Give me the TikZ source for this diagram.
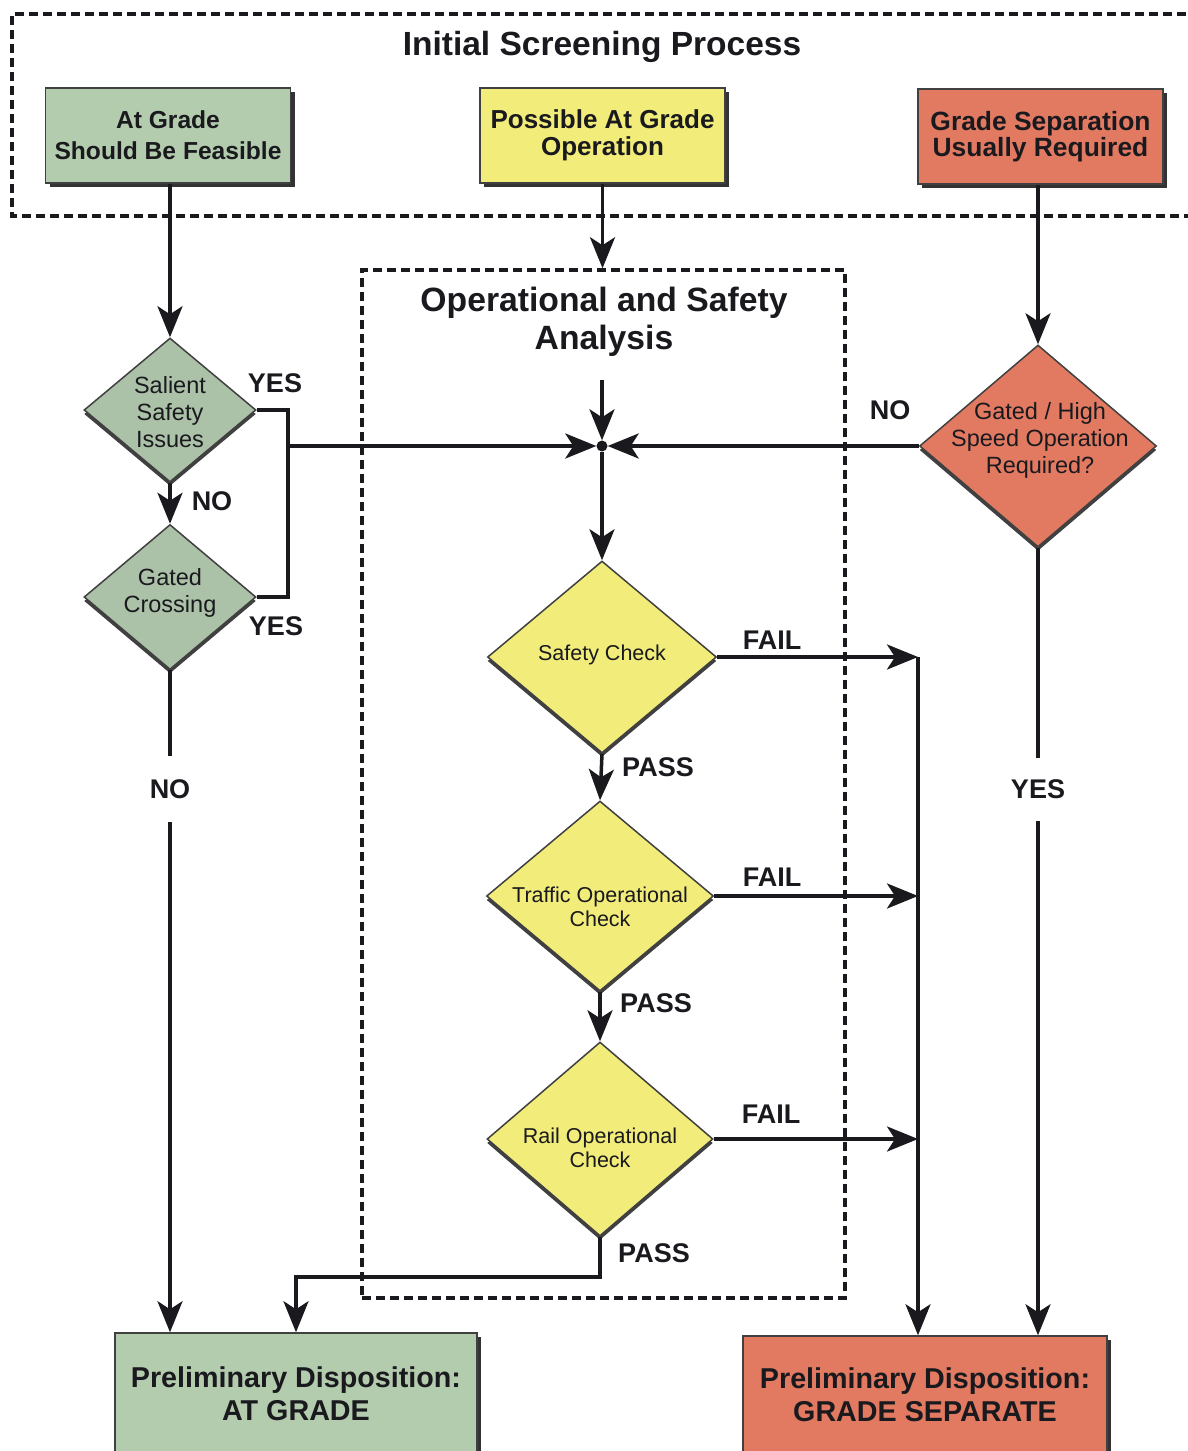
\documentclass[tikz,border=0pt]{standalone}
\usepackage{fontspec}
\setmainfont{Liberation Sans}
\usetikzlibrary{shapes.geometric,arrows.meta,shadows}
\definecolor{boxgreen}{RGB}{180,204,174}
\definecolor{diagreen}{RGB}{172,194,168}
\definecolor{boxyellow}{RGB}{242,236,122}
\definecolor{boxred}{RGB}{226,122,98}
\definecolor{ink}{RGB}{25,25,30}
\begin{document}
\begin{tikzpicture}[x=1pt,y=-1pt,
  box/.style={draw=gray!50!black, line width=1.5pt, rectangle, inner sep=0pt, align=center, text=ink,
    drop shadow={shadow xshift=4pt, shadow yshift=-4pt, fill=black!80, opacity=1}},
  dia/.style={diamond, draw=gray!50!black, line width=1.5pt, inner sep=0pt,
    drop shadow={shadow xshift=0pt, shadow yshift=-4pt, fill=black!75, opacity=1}},
  dtext/.style={align=center, text=ink, inner sep=0pt, font=\fontsize{23.5}{27}\selectfont},
  ytext/.style={align=center, text=ink, inner sep=0pt, font=\fontsize{21.5}{24}\selectfont},
  lab/.style={font=\fontsize{27}{30}\selectfont\bfseries, text=ink, inner sep=0pt},
  dbox/.style={draw=ink, line width=3.5pt, dash pattern=on 9pt off 5pt},
  line/.style={draw=ink, line width=3.5pt},
  arr/.style={draw=ink, line width=3.5pt, -{Stealth[length=31pt,width=25pt,inset=8pt]}}
]
\clip (0,0) rectangle (1188,1451);
\fill[white] (0,0) rectangle (1188,1451);

% Initial screening frame
\draw[dbox] (1200,14) -- (12,14) -- (12,216) -- (1200,216);
\node[font=\fontsize{33.5}{40}\selectfont\bfseries, text=ink] (t1) at (602,47) {Initial Screening Process};

\node[box, fill=boxgreen, minimum width=245pt, minimum height=95pt, font=\fontsize{24.6}{31}\selectfont\bfseries] (b1) at (168,135.5) {At Grade\\Should Be Feasible};
\node[box, fill=boxyellow, minimum width=245pt, minimum height=95pt, font=\fontsize{26}{27}\selectfont\bfseries] (b2) at (602.5,135.5) {Possible At Grade\\Operation};
\node[box, fill=boxred, minimum width=245pt, minimum height=95pt, font=\fontsize{26.4}{26}\selectfont\bfseries] (b3) at (1040.5,136.5) {Grade Separation\\Usually Required};

% Operational and safety frame
\node[dbox, rectangle, minimum width=483pt, minimum height=1028pt, inner sep=0pt] (osa) at (603.5,784) {};
\node[font=\fontsize{33.7}{38}\selectfont\bfseries, align=center, text=ink] (t2) at (604,322) {Operational and Safety\\Analysis};

% junction
\node[circle, fill=ink, inner sep=0pt, minimum size=11pt] (j) at (602,446) {};
\coordinate (jin) at (602,380);

% diamonds
\node[dia, fill=diagreen, minimum width=172pt, minimum height=144pt] (sal) at (170,410) {};
\node[dtext] at (170,412) {Salient\\Safety\\Issues};
\node[dia, fill=diagreen, minimum width=172pt, minimum height=145pt] (gat) at (170,597) {};
\node[dtext] at (170,593) {Gated\\Crossing};
\node[dia, fill=boxred, minimum width=237pt, minimum height=202pt] (gh) at (1038,446) {};
\node[dtext] at (1040,440) {Gated / High\\Speed Operation\\Required?};
\node[dia, fill=boxyellow, minimum width=229pt, minimum height=192pt] (sc) at (602,657) {};
\node[ytext] at (602,655) {Safety Check};
\node[dia, fill=boxyellow, minimum width=227pt, minimum height=190pt] (toc) at (600,896) {};
\node[ytext] at (600,907) {Traffic Operational\\Check};
\node[dia, fill=boxyellow, minimum width=226pt, minimum height=194pt] (roc) at (600,1139) {};
\node[ytext] at (600,1148) {Rail Operational\\Check};

% outcomes
\node[box, fill=boxgreen, minimum width=362pt, minimum height=121pt, font=\fontsize{28.7}{33}\selectfont\bfseries] (ag) at (296,1393.5) {Preliminary Disposition:\\AT GRADE};
\node[box, fill=boxred, minimum width=364pt, minimum height=118pt, font=\fontsize{28.7}{33}\selectfont\bfseries] (gs) at (925,1395) {Preliminary Disposition:\\GRADE SEPARATE};

% connectors
\draw[arr] (sal.north |- b1.south) -- (sal.north);
\draw[arr] (b2.south) -- (b2.south |- osa.north);
\draw[arr] (gh.north |- b3.south) -- (gh.north);
\draw[arr] (jin) -- (j);

\draw[arr] (sal.south) -- (gat.north);
\node[lab] at (212,501) {NO};

\coordinate (yr1) at (288,410);
\coordinate (yr2) at (288,597);
\coordinate (ym) at (288,446);
\draw[line] (sal.east) -- (yr1) -- (yr2) -- (gat.east);
\draw[arr] (ym) -- (j);
\node[lab] at (275,383) {YES};
\node[lab] at (276,626) {YES};

\draw[arr] (gh.west) -- (j);
\node[lab] at (890,410) {NO};

\draw[arr] (j) -- (sc.north);
\draw[arr] (sc.south) -- (toc.north);
\draw[arr] (toc.south) -- (roc.north);
\node[lab] at (658,767) {PASS};
\node[lab] at (656,1003) {PASS};
\node[lab] at (654,1253) {PASS};

\coordinate (f1) at (918,657);
\coordinate (f2) at (918,896);
\coordinate (f3) at (918,1139);
\draw[arr] (sc.east) -- (f1);
\draw[arr] (toc.east) -- (f2);
\draw[arr] (roc.east) -- (f3);
\node[lab] at (772,640) {FAIL};
\node[lab] at (772,877) {FAIL};
\node[lab] at (771,1114) {FAIL};
\draw[arr] (f1) -- (f1 |- gs.north);

\coordinate (pb) at (296,1277);
\draw[arr] (roc.south) -- (roc.south |- pb) -- (pb) -- (ag.north);

\draw[arr] (gat.south) -- node[pos=0.18, fill=white, minimum height=66pt, lab] {NO} (gat.south |- ag.north);
\draw[arr] (gh.south) -- node[pos=0.307, fill=white, minimum height=63pt, lab] {YES} (gh.south |- gs.north);
\end{tikzpicture}
\end{document}
